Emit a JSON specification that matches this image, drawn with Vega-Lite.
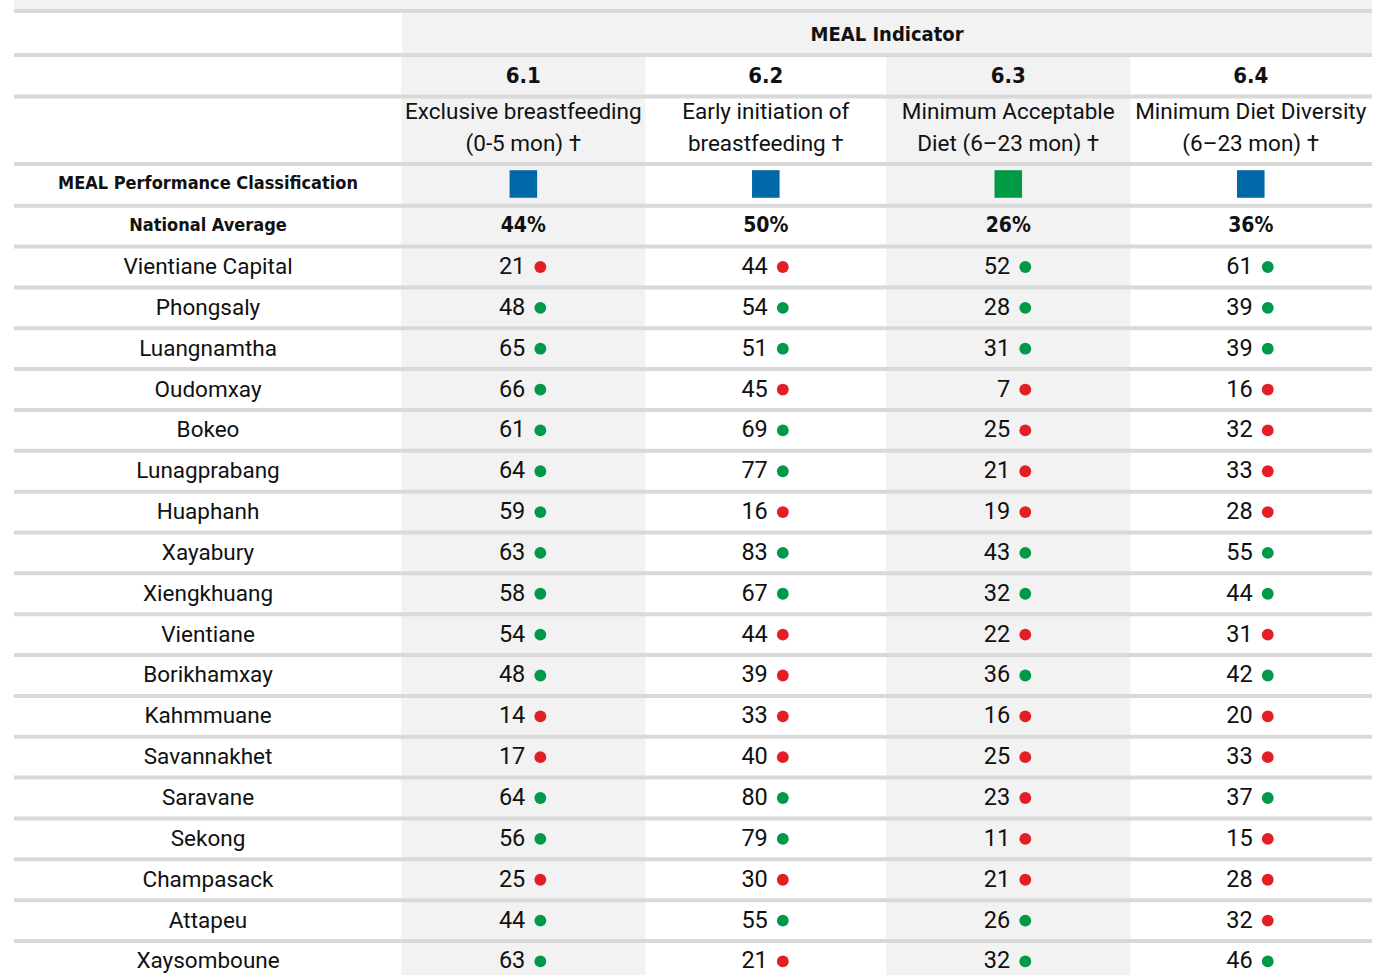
{
  "$schema": "https://vega.github.io/schema/vega-lite/v6.json",
  "width": 1377,
  "height": 975,
  "autosize": {"type": "none"},
  "padding": 0,
  "background": "white",
  "config": {"view": {"stroke": null}},
  "datasets": {
    "ind": [
      {"idx": 1, "code": "6.1", "desc": "Exclusive breastfeeding\n(0-5 mon) †", "avg": "44%", "cls": "Blue"},
      {"idx": 2, "code": "6.2", "desc": "Early initiation of\nbreastfeeding †", "avg": "50%", "cls": "Blue"},
      {"idx": 3, "code": "6.3", "desc": "Minimum Acceptable\nDiet (6–23 mon) †", "avg": "26%", "cls": "Green"},
      {"idx": 4, "code": "6.4", "desc": "Minimum Diet Diversity\n(6–23 mon) †", "avg": "36%", "cls": "Blue"}
    ],
    "lines": [
      {"y": -5.267}, {"y": -4.19}, {"y": -3.174}, {"y": -1.521}, {"y": -0.5},
      {"y": 0.5}, {"y": 1.5}, {"y": 2.5}, {"y": 3.5}, {"y": 4.5}, {"y": 5.5}, {"y": 6.5}, {"y": 7.5}, {"y": 8.5},
      {"y": 9.5}, {"y": 10.5}, {"y": 11.5}, {"y": 12.5}, {"y": 13.5}, {"y": 14.5}, {"y": 15.5}, {"y": 16.5}, {"y": 17.5}
    ],
    "prov": [
      {"province": "Vientiane Capital", "rank": 1, "idx": 1, "value": 21, "status": "below"},
      {"province": "Vientiane Capital", "rank": 1, "idx": 2, "value": 44, "status": "below"},
      {"province": "Vientiane Capital", "rank": 1, "idx": 3, "value": 52, "status": "above"},
      {"province": "Vientiane Capital", "rank": 1, "idx": 4, "value": 61, "status": "above"},
      {"province": "Phongsaly", "rank": 2, "idx": 1, "value": 48, "status": "above"},
      {"province": "Phongsaly", "rank": 2, "idx": 2, "value": 54, "status": "above"},
      {"province": "Phongsaly", "rank": 2, "idx": 3, "value": 28, "status": "above"},
      {"province": "Phongsaly", "rank": 2, "idx": 4, "value": 39, "status": "above"},
      {"province": "Luangnamtha", "rank": 3, "idx": 1, "value": 65, "status": "above"},
      {"province": "Luangnamtha", "rank": 3, "idx": 2, "value": 51, "status": "above"},
      {"province": "Luangnamtha", "rank": 3, "idx": 3, "value": 31, "status": "above"},
      {"province": "Luangnamtha", "rank": 3, "idx": 4, "value": 39, "status": "above"},
      {"province": "Oudomxay", "rank": 4, "idx": 1, "value": 66, "status": "above"},
      {"province": "Oudomxay", "rank": 4, "idx": 2, "value": 45, "status": "below"},
      {"province": "Oudomxay", "rank": 4, "idx": 3, "value": 7, "status": "below"},
      {"province": "Oudomxay", "rank": 4, "idx": 4, "value": 16, "status": "below"},
      {"province": "Bokeo", "rank": 5, "idx": 1, "value": 61, "status": "above"},
      {"province": "Bokeo", "rank": 5, "idx": 2, "value": 69, "status": "above"},
      {"province": "Bokeo", "rank": 5, "idx": 3, "value": 25, "status": "below"},
      {"province": "Bokeo", "rank": 5, "idx": 4, "value": 32, "status": "below"},
      {"province": "Lunagprabang", "rank": 6, "idx": 1, "value": 64, "status": "above"},
      {"province": "Lunagprabang", "rank": 6, "idx": 2, "value": 77, "status": "above"},
      {"province": "Lunagprabang", "rank": 6, "idx": 3, "value": 21, "status": "below"},
      {"province": "Lunagprabang", "rank": 6, "idx": 4, "value": 33, "status": "below"},
      {"province": "Huaphanh", "rank": 7, "idx": 1, "value": 59, "status": "above"},
      {"province": "Huaphanh", "rank": 7, "idx": 2, "value": 16, "status": "below"},
      {"province": "Huaphanh", "rank": 7, "idx": 3, "value": 19, "status": "below"},
      {"province": "Huaphanh", "rank": 7, "idx": 4, "value": 28, "status": "below"},
      {"province": "Xayabury", "rank": 8, "idx": 1, "value": 63, "status": "above"},
      {"province": "Xayabury", "rank": 8, "idx": 2, "value": 83, "status": "above"},
      {"province": "Xayabury", "rank": 8, "idx": 3, "value": 43, "status": "above"},
      {"province": "Xayabury", "rank": 8, "idx": 4, "value": 55, "status": "above"},
      {"province": "Xiengkhuang", "rank": 9, "idx": 1, "value": 58, "status": "above"},
      {"province": "Xiengkhuang", "rank": 9, "idx": 2, "value": 67, "status": "above"},
      {"province": "Xiengkhuang", "rank": 9, "idx": 3, "value": 32, "status": "above"},
      {"province": "Xiengkhuang", "rank": 9, "idx": 4, "value": 44, "status": "above"},
      {"province": "Vientiane", "rank": 10, "idx": 1, "value": 54, "status": "above"},
      {"province": "Vientiane", "rank": 10, "idx": 2, "value": 44, "status": "below"},
      {"province": "Vientiane", "rank": 10, "idx": 3, "value": 22, "status": "below"},
      {"province": "Vientiane", "rank": 10, "idx": 4, "value": 31, "status": "below"},
      {"province": "Borikhamxay", "rank": 11, "idx": 1, "value": 48, "status": "above"},
      {"province": "Borikhamxay", "rank": 11, "idx": 2, "value": 39, "status": "below"},
      {"province": "Borikhamxay", "rank": 11, "idx": 3, "value": 36, "status": "above"},
      {"province": "Borikhamxay", "rank": 11, "idx": 4, "value": 42, "status": "above"},
      {"province": "Kahmmuane", "rank": 12, "idx": 1, "value": 14, "status": "below"},
      {"province": "Kahmmuane", "rank": 12, "idx": 2, "value": 33, "status": "below"},
      {"province": "Kahmmuane", "rank": 12, "idx": 3, "value": 16, "status": "below"},
      {"province": "Kahmmuane", "rank": 12, "idx": 4, "value": 20, "status": "below"},
      {"province": "Savannakhet", "rank": 13, "idx": 1, "value": 17, "status": "below"},
      {"province": "Savannakhet", "rank": 13, "idx": 2, "value": 40, "status": "below"},
      {"province": "Savannakhet", "rank": 13, "idx": 3, "value": 25, "status": "below"},
      {"province": "Savannakhet", "rank": 13, "idx": 4, "value": 33, "status": "below"},
      {"province": "Saravane", "rank": 14, "idx": 1, "value": 64, "status": "above"},
      {"province": "Saravane", "rank": 14, "idx": 2, "value": 80, "status": "above"},
      {"province": "Saravane", "rank": 14, "idx": 3, "value": 23, "status": "below"},
      {"province": "Saravane", "rank": 14, "idx": 4, "value": 37, "status": "above"},
      {"province": "Sekong", "rank": 15, "idx": 1, "value": 56, "status": "above"},
      {"province": "Sekong", "rank": 15, "idx": 2, "value": 79, "status": "above"},
      {"province": "Sekong", "rank": 15, "idx": 3, "value": 11, "status": "below"},
      {"province": "Sekong", "rank": 15, "idx": 4, "value": 15, "status": "below"},
      {"province": "Champasack", "rank": 16, "idx": 1, "value": 25, "status": "below"},
      {"province": "Champasack", "rank": 16, "idx": 2, "value": 30, "status": "below"},
      {"province": "Champasack", "rank": 16, "idx": 3, "value": 21, "status": "below"},
      {"province": "Champasack", "rank": 16, "idx": 4, "value": 28, "status": "below"},
      {"province": "Attapeu", "rank": 17, "idx": 1, "value": 44, "status": "above"},
      {"province": "Attapeu", "rank": 17, "idx": 2, "value": 55, "status": "above"},
      {"province": "Attapeu", "rank": 17, "idx": 3, "value": 26, "status": "above"},
      {"province": "Attapeu", "rank": 17, "idx": 4, "value": 32, "status": "below"},
      {"province": "Xaysomboune", "rank": 18, "idx": 1, "value": 63, "status": "above"},
      {"province": "Xaysomboune", "rank": 18, "idx": 2, "value": 21, "status": "below"},
      {"province": "Xaysomboune", "rank": 18, "idx": 3, "value": 32, "status": "above"},
      {"province": "Xaysomboune", "rank": 18, "idx": 4, "value": 46, "status": "above"}
    ]
  },
  "resolve": {"scale": {"color": "independent"}},
  "layer": [
    {
      "data": {"values": [{"k": 1}]},
      "mark": {"type": "rect", "color": "#f2f2f2"},
      "encoding": {
        "x": {"datum": -1.1008, "type": "quantitative", "scale": {"domain": [-1.1377, 4.5], "nice": false, "zero": false}, "axis": null},
        "x2": {"datum": 4.5},
        "y": {"datum": -5.536, "type": "quantitative", "scale": {"domain": [-5.536, 18.332], "reverse": true, "nice": false, "zero": false}, "axis": null},
        "y2": {"datum": -5.267}
      }
    },
    {
      "data": {"values": [{"k": 1}]},
      "mark": {"type": "rect", "color": "#f2f2f2"},
      "encoding": {
        "x": {"datum": 0.5, "type": "quantitative"},
        "x2": {"datum": 4.5},
        "y": {"datum": -5.267, "type": "quantitative"},
        "y2": {"datum": -4.19}
      }
    },
    {
      "data": {"name": "ind"},
      "transform": [{"filter": "datum.idx == 1 || datum.idx == 3"}],
      "mark": {"type": "bar", "color": "#f2f2f2", "width": 244.25},
      "encoding": {
        "x": {"field": "idx", "type": "quantitative"},
        "y": {"datum": -4.19, "type": "quantitative"},
        "y2": {"datum": 18.332}
      }
    },
    {
      "data": {"name": "lines"},
      "mark": {"type": "rule", "color": "#d9d9d9", "strokeWidth": 4},
      "encoding": {
        "x": {"datum": -1.1008, "type": "quantitative"},
        "x2": {"datum": 4.5},
        "y": {"field": "y", "type": "quantitative"}
      }
    },
    {
      "data": {"values": [{"label": "MEAL Indicator"}]},
      "mark": {"type": "text", "font": "DejaVu Sans Condensed", "fontWeight": "bold", "fontSize": 20, "color": "#111111", "baseline": "middle"},
      "encoding": {
        "x": {"datum": 2.5, "type": "quantitative"},
        "y": {"datum": -4.679, "type": "quantitative"},
        "text": {"field": "label"}
      }
    },
    {
      "data": {"values": [{"label": "MEAL Performance Classification", "y": -1.032}, {"label": "National Average", "y": 0}]},
      "mark": {"type": "text", "font": "DejaVu Sans Condensed", "fontWeight": "bold", "fontSize": 18, "color": "#111111", "baseline": "middle"},
      "encoding": {
        "x": {"datum": -0.3004, "type": "quantitative"},
        "y": {"field": "y", "type": "quantitative"},
        "text": {"field": "label"}
      }
    },
    {
      "data": {"name": "ind"},
      "mark": {"type": "text", "font": "DejaVu Sans Condensed", "fontWeight": "bold", "fontSize": 22, "color": "#111111", "baseline": "middle"},
      "encoding": {
        "x": {"field": "idx", "type": "quantitative"},
        "y": {"datum": -3.676, "type": "quantitative"},
        "text": {"field": "code"}
      }
    },
    {
      "data": {"name": "ind"},
      "mark": {"type": "text", "font": "Roboto", "fontSize": 22.5, "color": "#111111", "baseline": "middle", "lineBreak": "\n", "lineHeight": 32},
      "encoding": {
        "x": {"field": "idx", "type": "quantitative"},
        "y": {"datum": -2.794, "type": "quantitative"},
        "text": {"field": "desc"}
      }
    },
    {
      "data": {"name": "ind"},
      "mark": {"type": "point", "shape": "square", "filled": true, "opacity": 1, "size": 760},
      "encoding": {
        "x": {"field": "idx", "type": "quantitative"},
        "y": {"datum": -1.032, "type": "quantitative"},
        "color": {"field": "cls", "type": "nominal", "scale": {"domain": ["Blue", "Green"], "range": ["#0068a6", "#009a44"]}, "legend": null}
      }
    },
    {
      "data": {"name": "ind"},
      "mark": {"type": "text", "font": "DejaVu Sans Condensed", "fontWeight": "bold", "fontSize": 21, "color": "#111111", "baseline": "middle"},
      "encoding": {
        "x": {"field": "idx", "type": "quantitative"},
        "y": {"datum": 0, "type": "quantitative"},
        "text": {"field": "avg"}
      }
    },
    {
      "data": {"name": "prov"},
      "transform": [{"filter": "datum.idx == 1"}],
      "mark": {"type": "text", "font": "Roboto", "fontSize": 22.5, "color": "#111111", "baseline": "middle"},
      "encoding": {
        "x": {"datum": -0.3004, "type": "quantitative"},
        "y": {"field": "rank", "type": "quantitative"},
        "text": {"field": "province"}
      }
    },
    {
      "data": {"name": "prov"},
      "mark": {"type": "text", "font": "Roboto", "fontSize": 23.5, "color": "#111111", "baseline": "middle", "align": "right", "dx": 2},
      "encoding": {
        "x": {"field": "idx", "type": "quantitative"},
        "y": {"field": "rank", "type": "quantitative"},
        "text": {"field": "value", "type": "quantitative"}
      }
    },
    {
      "data": {"name": "prov"},
      "mark": {"type": "point", "shape": "circle", "filled": true, "opacity": 1, "size": 140, "xOffset": 17},
      "encoding": {
        "x": {"field": "idx", "type": "quantitative"},
        "y": {"field": "rank", "type": "quantitative"},
        "color": {"field": "status", "type": "nominal", "scale": {"domain": ["above", "below"], "range": ["#00994a", "#e41e26"]}, "legend": null}
      }
    }
  ]
}
